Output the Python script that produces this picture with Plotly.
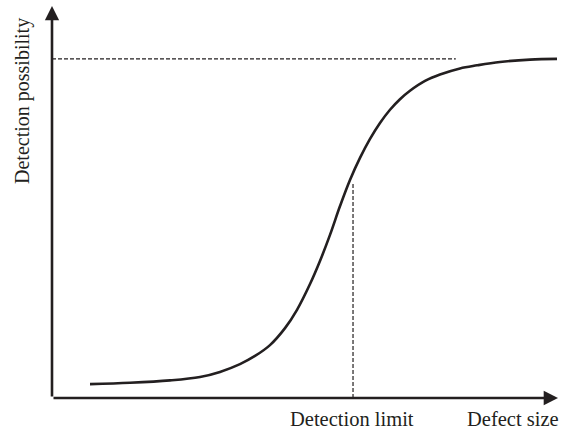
import plotly.graph_objects as go

# defect size (0-100) vs detection possibility (0-1)
defect_size = [7.51, 15.42, 23.32, 29.25, 33.20, 37.15, 40.12, 43.08, 46.05, 48.42, 50.99,
               52.96, 54.94, 56.92, 58.89, 60.87, 62.85, 64.82, 66.80, 68.77, 70.75, 73.72,
               76.68, 80.63, 83.99, 88.54, 94.47, 99.80]
possibility = [0.041, 0.045, 0.052, 0.062, 0.077, 0.100, 0.124, 0.156, 0.206, 0.260, 0.336,
               0.404, 0.481, 0.566, 0.643, 0.708, 0.764, 0.811, 0.850, 0.881, 0.906, 0.935,
               0.954, 0.972, 0.981, 0.991, 0.998, 1.0]

detection_limit = 59.49
limit_top = 0.634
max_level = 1.0
max_line_end = 79.8

x_max = 100
y_max = 1.156

serif = "Liberation Serif"
ink = "#231f20"

fig = go.Figure()

# S-curve
fig.add_trace(go.Scatter(x=defect_size, y=possibility, mode="lines",
                         line=dict(color=ink, width=2.6, shape="spline", smoothing=1),
                         hoverinfo="skip"))

# dashed guide lines
fig.add_trace(go.Scatter(x=[0, max_line_end], y=[max_level, max_level], mode="lines",
                         line=dict(color=ink, width=1.2, dash="4px,2px"), hoverinfo="skip"))
fig.add_trace(go.Scatter(x=[detection_limit, detection_limit], y=[0, limit_top], mode="lines",
                         line=dict(color=ink, width=1.2, dash="4px,2px"), hoverinfo="skip"))

# axis arrows
fig.add_annotation(x=x_max, y=0, ax=0, ay=0, xref="x", yref="y", axref="x", ayref="y",
                   showarrow=True, arrowhead=2, arrowsize=1.1, arrowwidth=2.6,
                   arrowcolor=ink, text="")
fig.add_annotation(x=0, y=y_max, ax=0, ay=0, xref="x", yref="y", axref="x", ayref="y",
                   showarrow=True, arrowhead=2, arrowsize=1.1, arrowwidth=2.6,
                   arrowcolor=ink, text="")

# labels
fig.add_annotation(x=59.3, y=0, xref="x", yref="y", yanchor="top", yshift=-8,
                   text="Detection limit", showarrow=False,
                   font=dict(family=serif, size=20.5, color=ink))
fig.add_annotation(x=x_max, y=0, xref="x", yref="y", xanchor="right", yanchor="top",
                   yshift=-8, xshift=3,
                   text="Defect size", showarrow=False,
                   font=dict(family=serif, size=20.5, color=ink))
fig.add_annotation(x=0, y=0.876, xref="x", yref="y", xshift=-29, textangle=-90,
                   text="Detection possibility", showarrow=False,
                   font=dict(family=serif, size=20, color=ink))

fig.update_xaxes(range=[0, x_max], visible=False, fixedrange=True)
fig.update_yaxes(range=[0, y_max], visible=False, fixedrange=True)

fig.update_layout(width=561, height=429, showlegend=False,
                  margin=dict(l=52, r=3, t=6, b=31),
                  plot_bgcolor="white", paper_bgcolor="white")

fig.write_html("out.html", config={"displayModeBar": False},
               post_script="document.body.style.margin='0';")
